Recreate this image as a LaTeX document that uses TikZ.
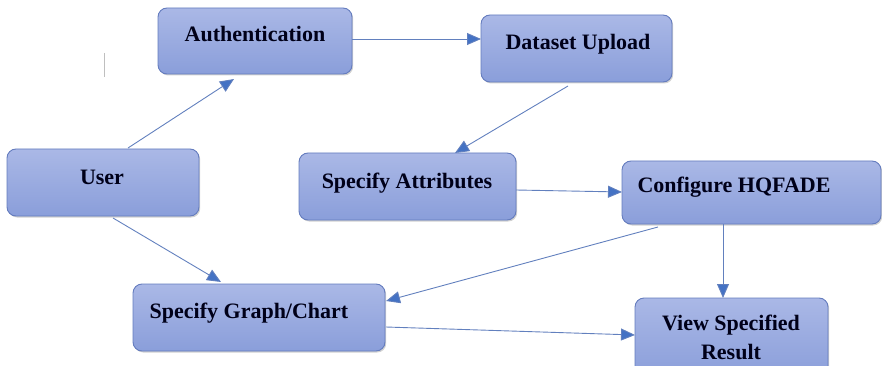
\documentclass[tikz,border=0pt]{standalone}
\usepackage{fontspec}
\setmainfont{Liberation Serif}
\usetikzlibrary{arrows.meta,shadows}
\definecolor{boxtop}{RGB}{170,184,230}
\definecolor{boxbot}{RGB}{138,158,218}
\definecolor{boxedge}{RGB}{100,124,190}
\definecolor{linkline}{RGB}{98,128,190}
\definecolor{linktip}{RGB}{68,114,196}
\tikzset{
  box/.style={rectangle, rounded corners=9pt, draw=boxedge, line width=0.9pt,
    top color=boxtop, bottom color=boxbot,
    drop shadow={shadow xshift=1.2pt, shadow yshift=-1.5pt, fill=black, opacity=0.18}},
  lbl/.style={font=\fontsize{22}{28}\selectfont\bfseries, text=black!90!blue, inner sep=0pt},
  link/.style={draw=linkline, line width=0.9pt,
    -{Triangle[length=14pt, width=12pt, fill=linktip]}}
}
\begin{document}
\begin{tikzpicture}[x=1pt,y=-1pt]
\useasboundingbox (0,0) rectangle (882,366);
\clip (0,0) rectangle (882,366);

% boxes
\node[box, minimum width=194pt, minimum height=66pt] (auth) at (255,41) {};
\node[box, minimum width=191pt, minimum height=67pt] (data) at (576.5,48.5) {};
\node[box, minimum width=192pt, minimum height=67pt] (user) at (103,182.5) {};
\node[box, minimum width=217pt, minimum height=67pt] (attr) at (407.5,186.5) {};
\node[box, minimum width=259pt, minimum height=63pt] (conf) at (751.5,192.5) {};
\node[box, minimum width=252pt, minimum height=67pt] (graph) at (259,317.5) {};
\node[box, minimum width=193pt, minimum height=80pt] (view) at (731.5,338) {};

% labels (placed by baseline)
\node[lbl, anchor=base] (authT) at (255,42) {Authentication};
\node[lbl, anchor=base] (dataT) at (578,50) {Dataset Upload};
\node[lbl, anchor=base] (userT) at (102,184) {User};
\node[lbl, anchor=base] (attrT) at (407,188) {Specify Attributes};
\node[lbl, anchor=base] (confT) at (734,192) {Configure HQFADE};
\node[lbl, anchor=base] (graphT) at (249,318) {Specify Graph/Chart};
\node[lbl, anchor=base] (viewT1) at (731,330) {View Specified};
\node[lbl, anchor=base] (viewT2) at (731,359) {Result};

% connection points
\coordinate (authR) at (352,39);
\coordinate (dataL) at (481,39);
\coordinate (dataB) at (568,86);
\coordinate (attrTop) at (455,153);
\coordinate (userTop) at (128,148);
\coordinate (authB) at (234,79);
\coordinate (userB) at (113,218);
\coordinate (graphTop) at (221,282);
\coordinate (attrR) at (516,190);
\coordinate (confL) at (622,192);
\coordinate (confB1) at (658,227);
\coordinate (graphR1) at (386,301);
\coordinate (confB2) at (723,224);
\coordinate (viewTop) at (723,298);
\coordinate (graphR2) at (386,327);
\coordinate (viewL) at (635,335);

% connectors
\draw[link] (authR) -- (dataL);
\draw[link] (dataB) -- (attrTop);
\draw[link] (userTop) -- (authB);
\draw[link] (userB) -- (graphTop);
\draw[link] (attrR) -- (confL);
\draw[link] (confB1) -- (graphR1);
\draw[link] (confB2) -- (viewTop);
\draw[link] (graphR2) -- (viewL);

% faint stray rule
\coordinate (mk1) at (104,53);
\coordinate (mk2) at (104,77);
\draw[black!25, line width=0.8pt] (mk1) -- (mk2);
\end{tikzpicture}
\end{document}
